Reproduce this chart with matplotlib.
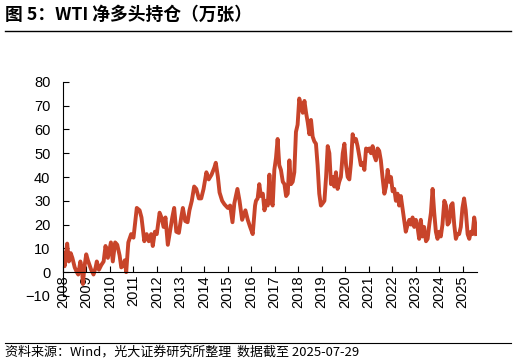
import matplotlib.pyplot as plt
import matplotlib.lines as mlines

plt.rcParams['font.family'] = ['Liberation Sans', 'Noto Sans CJK SC', 'DejaVu Sans']

# 数据（年份小数, 万张），读自原图
years = [2008.00, 2008.07, 2008.18, 2008.25, 2008.33, 2008.40, 2008.50, 2008.59, 2008.65, 2008.74,
         2008.81, 2008.85, 2008.91, 2008.99, 2009.06, 2009.13, 2009.20, 2009.30, 2009.39, 2009.44,
         2009.53, 2009.63, 2009.73, 2009.81, 2009.91, 2010.04, 2010.12, 2010.22, 2010.31, 2010.41,
         2010.48, 2010.58, 2010.63, 2010.69, 2010.78, 2010.90, 2011.00, 2011.14, 2011.26, 2011.34,
         2011.46, 2011.56, 2011.65, 2011.75, 2011.82, 2011.91, 2011.99, 2012.11, 2012.19, 2012.28,
         2012.36, 2012.46, 2012.55, 2012.65, 2012.73, 2012.82, 2012.93, 2013.03, 2013.10, 2013.20,
         2013.30, 2013.38, 2013.48, 2013.58, 2013.67, 2013.78, 2013.88, 2013.98, 2014.10, 2014.20,
         2014.32, 2014.44, 2014.50, 2014.59, 2014.66, 2014.77, 2014.87, 2015.01, 2015.11, 2015.21,
         2015.29, 2015.42, 2015.51, 2015.62, 2015.76, 2015.86, 2015.96, 2016.07, 2016.17, 2016.21,
         2016.28, 2016.35, 2016.42, 2016.50, 2016.57, 2016.64, 2016.71, 2016.78, 2016.85, 2016.92,
         2016.99, 2017.06, 2017.13, 2017.20, 2017.27, 2017.35, 2017.42, 2017.49, 2017.56, 2017.63,
         2017.70, 2017.77, 2017.84, 2017.91, 2017.98, 2018.05, 2018.12, 2018.20, 2018.27, 2018.34,
         2018.41, 2018.48, 2018.55, 2018.62, 2018.69, 2018.76, 2018.83, 2018.90, 2018.97, 2019.05,
         2019.12, 2019.19, 2019.26, 2019.33, 2019.40, 2019.47, 2019.54, 2019.61, 2019.68, 2019.75,
         2019.82, 2019.90, 2019.97, 2020.04, 2020.11, 2020.18, 2020.25, 2020.32, 2020.39, 2020.46,
         2020.53, 2020.60, 2020.67, 2020.75, 2020.82, 2020.89, 2020.96, 2021.03, 2021.10, 2021.17,
         2021.24, 2021.31, 2021.38, 2021.45, 2021.52, 2021.59, 2021.67, 2021.74, 2021.81, 2021.88,
         2021.95, 2022.02, 2022.09, 2022.16, 2022.23, 2022.30, 2022.37, 2022.44, 2022.51, 2022.58,
         2022.66, 2022.73, 2022.80, 2022.87, 2022.94, 2023.01, 2023.08, 2023.15, 2023.22, 2023.29,
         2023.36, 2023.44, 2023.51, 2023.58, 2023.65, 2023.72, 2023.79, 2023.86, 2023.93, 2024.00,
         2024.07, 2024.14, 2024.22, 2024.29, 2024.36, 2024.43, 2024.50, 2024.57, 2024.64, 2024.71,
         2024.78, 2024.85, 2024.92, 2024.99, 2025.06, 2025.13, 2025.21, 2025.28, 2025.35, 2025.42,
         2025.49, 2025.54, 2025.57]
net_long = [8, 2.5, 12, 4.5, 8, 6, 2, 0, -1, 4.5,
            1, -5, 2, 7.5, 5, 3, 1, -1, 2, 4.5,
            1, 3, 4.5, 11, 6, 12.5, 4.5, 12.5, 11.5, 7,
            2, 3, 5, 0, 12.5, 16, 14.5, 27, 26, 23,
            13, 16, 13, 16, 11, 17, 16, 25, 23, 19,
            23, 11.5, 17, 23, 27, 17, 16.5, 23, 27, 21.5,
            21, 26, 30, 36, 35, 31, 31, 35, 42, 39,
            41, 44, 46, 40, 33.5, 30, 28.5, 27, 28, 21,
            29, 35, 30, 22, 26, 22, 19, 16, 28, 30,
            31, 37, 32, 33, 26, 30, 28, 41, 30, 28,
            43, 48, 56, 45, 43, 38, 37, 32, 33, 47,
            37, 38, 42, 59, 62, 73, 70, 67, 72, 67,
            63, 58, 64, 57, 55, 54, 45, 33, 28, 29,
            30, 40, 53, 50, 37, 40, 36, 42, 35, 38,
            40, 50, 54, 45, 40, 39, 46, 58, 55, 56,
            53, 49, 45, 46, 43, 52, 51, 52, 50, 53,
            49, 47, 52, 51, 47, 40, 33, 36, 43, 38,
            40, 34, 35, 30, 33, 28, 32, 27, 22, 17,
            20, 22, 20, 23, 19, 22, 19, 14, 22, 15,
            19, 13, 14, 20, 25, 35, 25, 17, 14, 17,
            15, 20, 30, 28, 20, 21, 28, 29, 20, 14,
            16, 16, 19, 27, 31, 26, 16, 14, 17, 16,
            23, 20, 16]
year_ticks = list(range(2008, 2026))

fig = plt.figure(figsize=(5.16, 3.64), dpi=100)
ax = fig.add_axes([0.122, 0.187, 0.802, 0.588])

ax.plot(years, net_long, color='#C8442A', lw=2.8, solid_joinstyle='round')

# 先定位底轴，再设刻度（set_position 会重置刻度）
ax.spines['top'].set_visible(False)
ax.spines['right'].set_visible(False)
ax.spines['bottom'].set_position(('data', 0))

ax.set_xlim(2008, 2025.6)
ax.set_ylim(-10, 80)
ax.set_yticks(range(-10, 81, 10))
ax.set_xticks(year_ticks)
ax.set_xticklabels([str(y) for y in year_ticks])
ax.tick_params(axis='both', direction='in', length=4, labelsize=10.5, width=0.8)
ax.tick_params(axis='x', pad=2, labelrotation=90)
ax.tick_params(axis='y', pad=9)

# 标题与分隔线
fig.text(0.01, 0.958, '图 5：WTI 净多头持仓（万张）', fontsize=12.8, fontweight='bold',
         va='center', ha='left', family=['Noto Sans CJK SC', 'DejaVu Sans'])
fig.add_artist(mlines.Line2D([0.01, 0.99], [0.915, 0.915], color='black', lw=1))
fig.add_artist(mlines.Line2D([0.01, 0.99], [0.058, 0.058], color='black', lw=0.8))
fig.text(0.01, 0.032, '资料来源：Wind，光大证券研究所整理  数据截至 2025-07-29', fontsize=9.4,
         va='center', ha='left', family=['Noto Sans CJK SC', 'DejaVu Sans'])

fig.savefig('out.png', dpi=100)
